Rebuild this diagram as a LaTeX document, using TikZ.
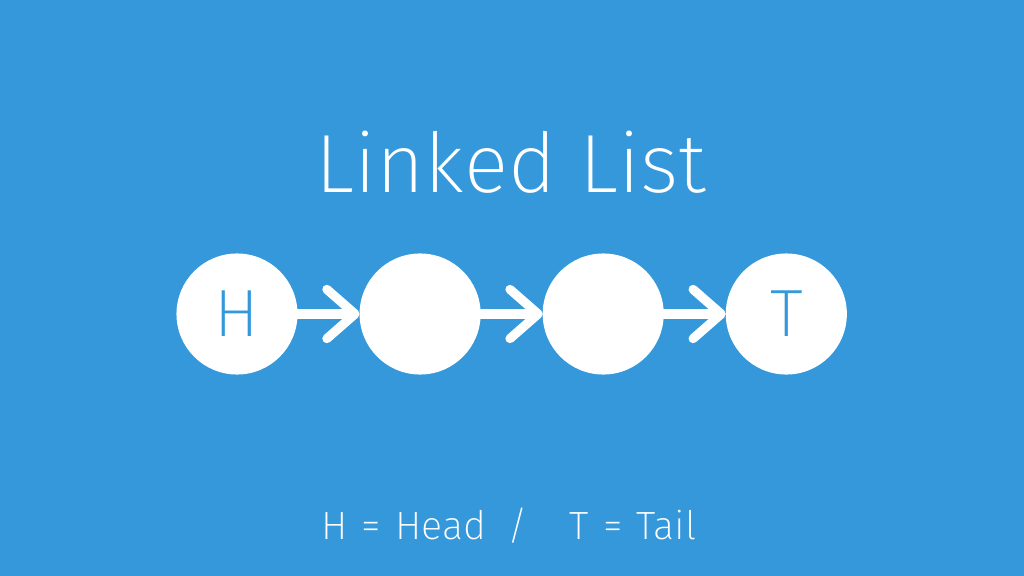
\documentclass[tikz,border=0pt]{standalone}
\usepackage{fontspec}
\setmainfont{Fira Sans ExtraLight}
\usepackage{tikz}
\usetikzlibrary{positioning, arrows.meta}
\definecolor{flatblue}{HTML}{3498DB}

\begin{document}
\begin{tikzpicture}[x=0.01cm, y=-0.01cm, node distance=0.62cm, font=\small]
		\tikzset{
			listnode/.style={circle, fill=white, minimum size=1.21cm, inner sep=0pt, outer sep=0pt, text=flatblue, font=\fontsize{19}{19}\selectfont},
			link/.style={white, line width=2.6pt, line cap=round, line join=round, -{Straight Barb[length=8pt, width=14pt, round]}}
		}
		\fill[flatblue] (0,0) rectangle (1024,576);
		\useasboundingbox (0,0) rectangle (1024,576);
		
		% Title
		\node[anchor=base, text=white, font=\fontsize{23.5}{24}\selectfont] (title) at (511,193) {Linked List};
		
		% Nodes
		\node[listnode] (head) at (237,314) {H};
		\node[listnode, right=of head] (mid1) {};
		\node[listnode, right=of mid1] (mid2) {};
		\node[listnode, right=of mid2] (tail) {T};
		
		% Links
		\draw[link] (head) -- (mid1);
		\draw[link] (mid1) -- (mid2);
		\draw[link] (mid2) -- (tail);
		
		% Legend
		\node[anchor=base, text=white, font=\fontsize{11.2}{12}\selectfont] (legend) at (509,539) {H\hspace{4pt}=\hspace{4pt}Head\hspace{6pt}/\hspace{12pt}T\hspace{4pt}=\hspace{4pt}Tail};
	\end{tikzpicture}
\end{document}
